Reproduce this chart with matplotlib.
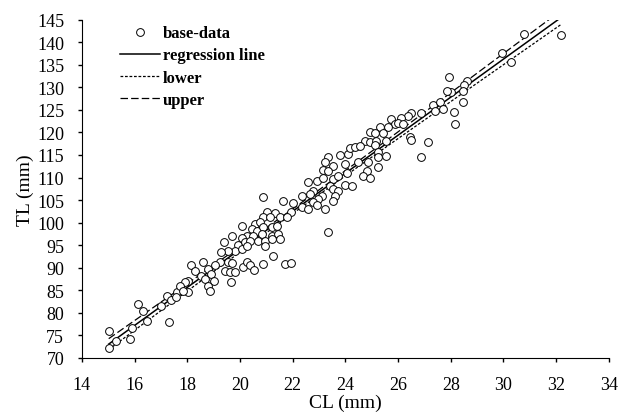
import matplotlib
matplotlib.use("Agg")
import matplotlib.pyplot as plt
import numpy as np

# CL (mm) and TL (mm) of the base data
cl = [15.02, 15.29, 15.02, 15.82, 15.90, 16.14, 16.33, 16.48, 17.30, 17.02,
      17.25, 17.40, 17.62, 18.01,
      20.06, 19.68, 19.40, 19.93, 19.81, 19.55, 19.30, 19.24, 19.55, 19.70,
      20.12, 19.43, 19.62, 19.81, 19.65, 19.05, 18.60, 18.16, 18.29, 18.79,
      18.92, 18.54, 18.67, 19.02, 18.79, 18.86, 18.03, 17.91, 17.72, 17.84,
      17.59,
      20.86, 21.62, 22.02, 21.92, 21.32, 21.01, 20.88, 21.13, 21.51, 21.77,
      20.57, 20.76, 20.44, 20.63, 20.88, 21.20, 21.39, 20.25, 20.50, 20.82,
      21.20, 21.45, 20.06, 20.19, 20.38, 20.69, 20.95, 21.20, 21.51, 20.95,
      20.06, 20.25, 21.26, 20.25, 20.38, 20.53, 20.88, 21.70, 21.92,
      23.35, 23.79, 24.11, 23.54, 23.22, 23.16, 23.35, 23.98, 24.05, 22.59,
      22.91, 23.16, 23.54, 23.73, 23.98, 23.41, 23.54, 23.73, 23.60, 23.54,
      22.78, 22.65, 22.34, 23.10, 22.97, 22.78, 22.34, 22.59, 22.91,
      23.22, 23.35,
      25.75, 25.88, 25.62, 25.31, 24.93, 25.12, 25.43, 24.74, 24.93, 25.18,
      25.56, 24.17, 24.36, 24.55, 25.12, 25.24, 25.56, 25.24, 24.49,
      24.87, 24.81, 25.24, 24.68, 24.93, 24.24,
      27.93, 28.60, 28.00, 28.47, 28.13, 28.16, 27.33, 27.59, 27.69, 27.40,
      26.89, 26.51, 26.38, 26.13, 26.00, 26.19, 26.45, 26.51, 27.14, 26.89,
      30.79, 29.95, 30.27, 28.50, 28.45, 27.86, 32.20]
tl = [75.9, 73.8, 72.3, 74.2, 76.6, 82.0, 80.5, 78.1, 78.0, 81.6,
      83.7, 82.9, 84.6, 84.6,
      99.3, 97.1, 95.8, 95.0, 93.8, 93.8, 93.4, 91.2, 91.2, 91.1,
      90.1, 89.3, 89.0, 89.0, 86.8, 90.5, 91.2, 90.5, 89.3, 89.7,
      88.6, 88.2, 87.5, 87.1, 86.0, 84.9, 87.1, 86.8, 86.0, 84.9,
      83.5,
      105.6, 104.9, 104.3, 102.3, 102.1, 102.3, 101.2, 101.2, 101.2, 101.2,
      99.7, 100.1, 98.6, 98.2, 99.0, 99.0, 99.3, 97.1, 97.1, 97.5,
      97.1, 97.5, 96.7, 95.6, 96.0, 96.0, 96.0, 96.4, 96.4, 94.9,
      94.2, 94.9, 92.7, 91.2, 90.5, 89.5, 90.8, 90.8, 91.0,
      114.5, 115.0, 115.2, 112.6, 113.4, 111.7, 111.5, 113.0, 111.1, 109.1,
      109.3, 110.0, 109.7, 110.4, 108.3, 108.2, 107.4, 107.1, 106.0, 104.9,
      107.1, 106.3, 106.0, 106.0, 105.2, 104.6, 103.4, 103.0, 103.9,
      103.0, 97.9,
      123.0, 121.8, 121.3, 121.1, 120.1, 119.9, 119.9, 118.1, 117.8, 118.1,
      118.1, 116.5, 116.7, 116.9, 117.2, 115.6, 114.8, 114.5, 113.5,
      113.4, 111.5, 112.3, 110.4, 110.0, 108.2,
      132.2, 131.4, 129.0, 126.7, 124.6, 121.9, 126.1, 126.7, 125.3, 124.8,
      124.4, 124.4, 123.7, 123.3, 122.2, 121.9, 118.9, 118.4, 117.9, 114.5,
      141.8, 137.7, 135.7, 130.6, 129.2, 129.2, 141.5]

x_ticks = [14, 16, 18, 20, 22, 24, 26, 28, 30, 32, 34]
y_ticks = [70, 75, 80, 85, 90, 95, 100, 105, 110, 115, 120, 125, 130, 135, 140, 145]

cl = np.array(cl)
tl = np.array(tl)

# least squares line and 95% band of the mean
b, a = np.polyfit(cl, tl, 1)
n = len(cl)
resid = tl - (a + b * cl)
s = np.sqrt(np.sum(resid ** 2) / (n - 2))
sxx = np.sum((cl - cl.mean()) ** 2)
xs = np.linspace(cl.min(), cl.max(), 100)
fit = a + b * xs
half = 1.97 * s * np.sqrt(1 / n + (xs - cl.mean()) ** 2 / sxx)

plt.rcParams['font.family'] = ['Liberation Serif', 'DejaVu Serif']

fig = plt.figure(figsize=(6.2, 4.14), dpi=100)
ax = fig.add_axes([0.132, 0.133, 0.85, 0.817])

ax.plot(cl, tl, 'o', mfc='white', mec='black', mew=0.7, ms=5.6,
        label='base-data', zorder=3)
ax.plot(xs, fit, color='black', lw=1.1, label='regression line', zorder=2)
ax.plot(xs, fit - half, color='black', lw=0.9, dashes=(2.2, 1.4),
        label='lower', zorder=2)
ax.plot(xs, fit + half, color='black', lw=0.9, dashes=(6, 2.5),
        label='upper', zorder=2)

ax.set_xlim(14, 34)
ax.set_ylim(70, 145)
ax.set_xticks(x_ticks)
ax.set_yticks(y_ticks)
ax.tick_params(labelsize=13, direction='out', length=3.2, width=1, pad=9.5)
ax.spines['top'].set_visible(False)
ax.spines['right'].set_visible(False)
ax.set_xlabel('CL (mm)', fontsize=14, labelpad=0.5)
ax.set_ylabel('TL (mm)', fontsize=14, labelpad=2)

leg = ax.legend(loc='upper left', bbox_to_anchor=(112 / 620, 1 - 18 / 414),
                bbox_transform=fig.transFigure, frameon=False, borderpad=0,
                handlelength=2.35, handletextpad=0.2, labelspacing=0.37,
                prop={'weight': 'bold', 'size': 12})

fig.savefig('out.png', dpi=100)
